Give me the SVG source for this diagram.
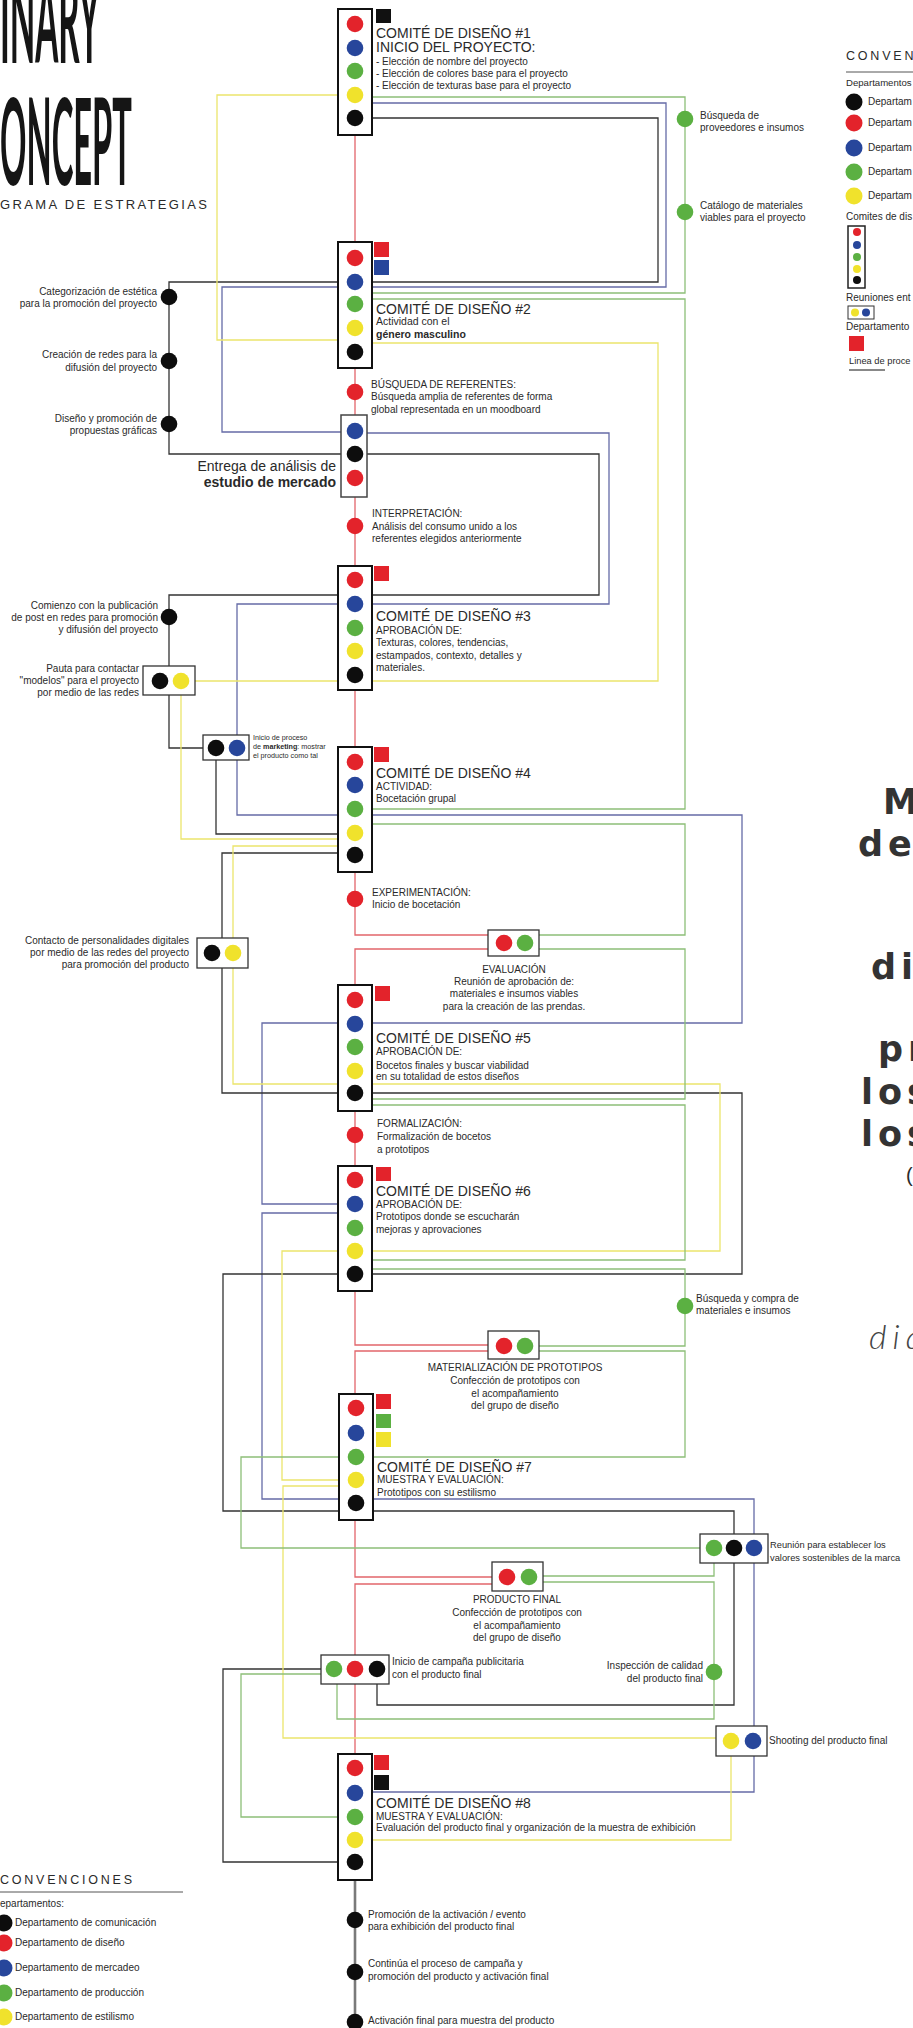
<svg xmlns="http://www.w3.org/2000/svg" width="913" height="2028" viewBox="0 0 913 2028">
<style>
.t{font-family:"Liberation Sans",Arial,sans-serif;fill:#2a2a2a}
.h{font-size:14px}
.s{font-size:10px}
.m{font-size:10px}
.e{text-anchor:end}
.c{text-anchor:middle}
.b{font-weight:bold}
.ln{fill:none;stroke-width:1.3}
.lr{stroke:#e2656b}.lb{stroke:#656ba7}.lg{stroke:#8dbf78}.ly{stroke:#ece56c}.lk{stroke:#333}
.box{fill:#fff;stroke:#111;stroke-width:2}
.mb{fill:#fff;stroke:#333;stroke-width:1.3}
.cr{fill:#e3232b}.cb{fill:#27469b}.cg{fill:#5bb042}.cy{fill:#f0e22c}.ck{fill:#0d0d0d}
.title{font-family:"Lato","Liberation Sans",sans-serif;font-weight:700;fill:#151515}
.big{font-family:"DejaVu Sans",sans-serif;font-weight:bold;font-size:35px;fill:#333;letter-spacing:5px}
</style>

<!-- title -->
<g id="title">
<text class="title" x="0" y="63" font-size="120" textLength="100" lengthAdjust="spacingAndGlyphs">INARY</text>
<text class="title" x="0" y="185" font-size="120" textLength="132" lengthAdjust="spacingAndGlyphs">ONCEPT</text>
<text class="t" x="0" y="209" font-size="13" textLength="207" lengthAdjust="spacing" fill="#333">GRAMA DE ESTRATEGIAS</text>
</g>

<!-- connectors -->
<g id="connectors">
<path class="ln lr" d="M355,135V242M355,368V415M355,497V566M355,690V747M355,872V935H488M488,949H355V985M355,1111V1166M355,1291V1345H488M488,1351H355V1394M355,1520V1577H492M492,1584H355V1655M355,1684V1754"/>
<path class="ln lb" d="M372,103H666V287H222V432H341M367,433H609V604H237V815H742V1023H262V1204H338M338,1213H262V1499H754V1792H372"/>
<path class="ln lk" d="M372,118H658V282H169V454H599V595H169V748H203M216,760V834H338M338,853H222V938M222,968V1093H742V1274H223V1511H734V1534M734,1563V1705H377V1684M321,1669H223V1862H338"/>
<path class="ln ly" d="M338,95H217V340H338M372,343H658V681H195M181,695V839H338M338,846H233V938M233,968V1084H720V1251H282V1480H339M339,1486H283V1738H716M731,1756V1840H372"/>
<path class="ln lg" d="M372,97H685V293H372M372,299H685V809H372M372,824H685V935H539M539,949H685V1099H372M372,1105H685V1260H372M372,1269H685V1346H539M539,1351H685V1457H241V1548H700M714,1563V1576H543M543,1582H714V1719H337V1684M321,1674H241V1817H338"/>
<path fill="none" stroke="#7a7a7a" stroke-width="2.6" d="M355,1880V2028"/>
</g>

<!-- comite 1 -->
<g id="comite1">
<rect class="box" x="338" y="9" width="34" height="126"/>
<circle class="cr" cx="355" cy="24" r="8.3"/><circle class="cb" cx="355" cy="48" r="8.3"/><circle class="cg" cx="355" cy="71" r="8.3"/><circle class="cy" cx="355" cy="95" r="8.3"/><circle class="ck" cx="355" cy="118" r="8.3"/>
<rect x="376" y="9" width="15" height="14" fill="#111"/>
<text class="t h" x="376" y="38">COMITÉ DE DISEÑO #1</text>
<text class="t h" x="376" y="52">INICIO DEL PROYECTO:</text>
<text class="t s" x="376" y="65">- Elección de nombre del proyecto</text>
<text class="t s" x="376" y="77">- Elección de colores base para el proyecto</text>
<text class="t s" x="376" y="89">- Elección de texturas base para el proyecto</text>
</g>

<g id="n-proveedores">
<circle class="cg" cx="685" cy="119" r="8.3"/>
<text class="t m" x="700" y="119">Búsqueda de</text>
<text class="t m" x="700" y="131">proveedores e insumos</text>
</g>
<g id="n-catalogo">
<circle class="cg" cx="685" cy="212" r="8.3"/>
<text class="t m" x="700" y="209">Catálogo de materiales</text>
<text class="t m" x="700" y="221">viables para el proyecto</text>
</g>

<!-- comite 2 -->
<g id="comite2">
<rect class="box" x="338" y="242" width="34" height="126"/>
<circle class="cr" cx="355" cy="258" r="8.3"/><circle class="cb" cx="355" cy="282" r="8.3"/><circle class="cg" cx="355" cy="304" r="8.3"/><circle class="cy" cx="355" cy="328" r="8.3"/><circle class="ck" cx="355" cy="352" r="8.3"/>
<rect class="cr" x="374" y="242" width="15" height="15"/>
<rect class="cb" x="374" y="260" width="15" height="15"/>
<text class="t h" x="376" y="314">COMITÉ DE DISEÑO #2</text>
<text class="t" x="376" y="325" font-size="10.5">Actividad con el</text>
<text class="t b" x="376" y="338" font-size="10.5">género masculino</text>
</g>

<g id="n-categorizacion">
<circle class="ck" cx="169" cy="297" r="8.3"/>
<text class="t s e" x="157" y="295">Categorización de estética</text>
<text class="t s e" x="157" y="307">para la promoción del proyecto</text>
</g>
<g id="n-redes">
<circle class="ck" cx="169" cy="361" r="8.3"/>
<text class="t s e" x="157" y="358">Creación de redes para la</text>
<text class="t s e" x="157" y="371">difusión del proyecto</text>
</g>
<g id="n-diseno-promo">
<circle class="ck" cx="169" cy="424" r="8.3"/>
<text class="t s e" x="157" y="422">Diseño y promoción de</text>
<text class="t s e" x="157" y="434">propuestas gráficas</text>
</g>

<g id="n-referentes">
<circle class="cr" cx="355" cy="392" r="8.3"/>
<text class="t s" x="371" y="388">BÚSQUEDA DE REFERENTES:</text>
<text class="t s" x="371" y="400">Búsqueda amplia de referentes de forma</text>
<text class="t s" x="371" y="413">global representada en un moodboard</text>
</g>

<g id="entrega">
<rect x="341" y="415" width="26" height="82" fill="#fff" stroke="#444" stroke-width="1.5"/>
<circle class="cb" cx="355" cy="431" r="8.3"/><circle class="ck" cx="355" cy="454" r="8.3"/><circle class="cr" cx="355" cy="478" r="8.3"/>
<text class="t e" x="336" y="471" font-size="14">Entrega de análisis de</text>
<text class="t e b" x="336" y="487" font-size="14">estudio de mercado</text>
</g>

<g id="n-interpretacion">
<circle class="cr" cx="355" cy="526" r="8.3"/>
<text class="t s" x="372" y="517">INTERPRETACIÓN:</text>
<text class="t s" x="372" y="530">Análisis del consumo unido a los</text>
<text class="t s" x="372" y="542">referentes elegidos anteriormente</text>
</g>

<!-- comite 3 -->
<g id="comite3">
<rect class="box" x="338" y="566" width="34" height="124"/>
<circle class="cr" cx="355" cy="580" r="8.3"/><circle class="cb" cx="355" cy="604" r="8.3"/><circle class="cg" cx="355" cy="628" r="8.3"/><circle class="cy" cx="355" cy="651" r="8.3"/><circle class="ck" cx="355" cy="675" r="8.3"/>
<rect class="cr" x="374" y="566" width="15" height="15"/>
<text class="t h" x="376" y="621">COMITÉ DE DISEÑO #3</text>
<text class="t s" x="376" y="634">APROBACIÓN DE:</text>
<text class="t s" x="376" y="646">Texturas, colores, tendencias,</text>
<text class="t s" x="376" y="659">estampados, contexto, detalles y</text>
<text class="t s" x="376" y="671">materiales.</text>
</g>

<g id="n-comienzo">
<circle class="ck" cx="169" cy="617" r="8.3"/>
<text class="t s e" x="158" y="609">Comienzo con la publicación</text>
<text class="t s e" x="158" y="621">de post en redes para promoción</text>
<text class="t s e" x="158" y="633">y difusión del proyecto</text>
</g>

<g id="pauta">
<rect class="mb" x="143" y="666" width="52" height="29"/>
<circle class="ck" cx="160" cy="681" r="8.3"/><circle class="cy" cx="181" cy="681" r="8.3"/>
<text class="t s e" x="139" y="672">Pauta para contactar</text>
<text class="t s e" x="139" y="684">"modelos" para el proyecto</text>
<text class="t s e" x="139" y="696">por medio de las redes</text>
</g>

<g id="inicio-marketing">
<rect class="mb" x="203" y="735" width="46" height="25"/>
<circle class="ck" cx="216" cy="748" r="8.3"/><circle class="cb" cx="237" cy="748" r="8.3"/>
<text class="t" x="253" y="740" font-size="7.2">Inicio de proceso</text>
<text class="t" x="253" y="749" font-size="7.2">de <tspan font-weight="bold">marketing</tspan>: mostrar</text>
<text class="t" x="253" y="758" font-size="7.2">el producto como tal</text>
</g>

<!-- comite 4 -->
<g id="comite4">
<rect class="box" x="338" y="747" width="34" height="125"/>
<circle class="cr" cx="355" cy="762" r="8.3"/><circle class="cb" cx="355" cy="785" r="8.3"/><circle class="cg" cx="355" cy="809" r="8.3"/><circle class="cy" cx="355" cy="833" r="8.3"/><circle class="ck" cx="355" cy="855" r="8.3"/>
<rect class="cr" x="374" y="747" width="15" height="15"/>
<text class="t h" x="376" y="778">COMITÉ DE DISEÑO #4</text>
<text class="t s" x="376" y="790">ACTIVIDAD:</text>
<text class="t s" x="376" y="802">Bocetación grupal</text>
</g>

<g id="n-experimentacion">
<circle class="cr" cx="355" cy="899" r="8.3"/>
<text class="t s" x="372" y="896">EXPERIMENTACIÓN:</text>
<text class="t s" x="372" y="908">Inicio de bocetación</text>
</g>

<g id="contacto">
<rect class="mb" x="197" y="938" width="51" height="30"/>
<circle class="ck" cx="212" cy="953" r="8.3"/><circle class="cy" cx="233" cy="953" r="8.3"/>
<text class="t s e" x="189" y="944">Contacto de personalidades digitales</text>
<text class="t s e" x="189" y="956">por medio de las redes del proyecto</text>
<text class="t s e" x="189" y="968">para promoción del producto</text>
</g>

<g id="evaluacion">
<rect class="mb" x="488" y="930" width="51" height="26"/>
<circle class="cr" cx="504" cy="943" r="8.3"/><circle class="cg" cx="525" cy="943" r="8.3"/>
<text class="t s c" x="514" y="973">EVALUACIÓN</text>
<text class="t s c" x="514" y="985">Reunión de aprobación de:</text>
<text class="t s c" x="514" y="997">materiales e insumos viables</text>
<text class="t s c" x="514" y="1010">para la creación de las prendas.</text>
</g>

<!-- comite 5 -->
<g id="comite5">
<rect class="box" x="338" y="985" width="34" height="126"/>
<circle class="cr" cx="355" cy="1000" r="8.3"/><circle class="cb" cx="355" cy="1024" r="8.3"/><circle class="cg" cx="355" cy="1047" r="8.3"/><circle class="cy" cx="355" cy="1071" r="8.3"/><circle class="ck" cx="355" cy="1093" r="8.3"/>
<rect class="cr" x="375" y="986" width="15" height="15"/>
<text class="t h" x="376" y="1043">COMITÉ DE DISEÑO #5</text>
<text class="t s" x="376" y="1055">APROBACIÓN DE:</text>
<text class="t s" x="376" y="1069">Bocetos finales y buscar viabilidad</text>
<text class="t s" x="376" y="1080">en su totalidad de estos diseños</text>
</g>

<g id="n-formalizacion">
<circle class="cr" cx="355" cy="1135" r="8.3"/>
<text class="t s" x="377" y="1127">FORMALIZACIÓN:</text>
<text class="t s" x="377" y="1140">Formalización de bocetos</text>
<text class="t s" x="377" y="1153">a prototipos</text>
</g>

<!-- comite 6 -->
<g id="comite6">
<rect class="box" x="338" y="1166" width="34" height="125"/>
<circle class="cr" cx="355" cy="1180" r="8.3"/><circle class="cb" cx="355" cy="1204" r="8.3"/><circle class="cg" cx="355" cy="1228" r="8.3"/><circle class="cy" cx="355" cy="1251" r="8.3"/><circle class="ck" cx="355" cy="1274" r="8.3"/>
<rect class="cr" x="376" y="1167" width="15" height="14"/>
<text class="t h" x="376" y="1196">COMITÉ DE DISEÑO #6</text>
<text class="t s" x="376" y="1208">APROBACIÓN DE:</text>
<text class="t s" x="376" y="1220">Prototipos donde se escucharán</text>
<text class="t s" x="376" y="1233">mejoras y aprovaciones</text>
</g>

<g id="n-compra">
<circle class="cg" cx="685" cy="1306" r="8.3"/>
<text class="t s" x="696" y="1302">Búsqueda y compra de</text>
<text class="t s" x="696" y="1314">materiales e insumos</text>
</g>

<g id="materializacion">
<rect class="mb" x="488" y="1331" width="51" height="28"/>
<circle class="cr" cx="504" cy="1346" r="8.3"/><circle class="cg" cx="525" cy="1346" r="8.3"/>
<text class="t s c" x="515" y="1371">MATERIALIZACIÓN DE PROTOTIPOS</text>
<text class="t s c" x="515" y="1384">Confección de prototipos con</text>
<text class="t s c" x="515" y="1397">el acompañamiento</text>
<text class="t s c" x="515" y="1409">del grupo de diseño</text>
</g>

<!-- comite 7 -->
<g id="comite7">
<rect class="box" x="339" y="1394" width="34" height="126"/>
<circle class="cr" cx="356" cy="1408" r="8.3"/><circle class="cb" cx="356" cy="1433" r="8.3"/><circle class="cg" cx="356" cy="1457" r="8.3"/><circle class="cy" cx="356" cy="1480" r="8.3"/><circle class="ck" cx="356" cy="1503" r="8.3"/>
<rect class="cr" x="376" y="1394" width="15" height="15"/>
<rect class="cg" x="376" y="1414" width="15" height="14"/>
<rect class="cy" x="376" y="1432" width="15" height="15"/>
<text class="t h" x="377" y="1472">COMITÉ DE DISEÑO #7</text>
<text class="t s" x="377" y="1483">MUESTRA Y EVALUACIÓN:</text>
<text class="t s" x="377" y="1496">Prototipos con su estilismo</text>
</g>

<g id="reunion-marca">
<rect class="mb" x="700" y="1534" width="68" height="29"/>
<circle class="cg" cx="714" cy="1548" r="8.3"/><circle class="ck" cx="734" cy="1548" r="8.3"/><circle class="cb" cx="754" cy="1548" r="8.3"/>
<text class="t" x="770" y="1548" font-size="9.3">Reunión para establecer los</text>
<text class="t" x="770" y="1561" font-size="9.3">valores sostenibles de la marca</text>
</g>

<g id="producto-final">
<rect class="mb" x="492" y="1562" width="51" height="29"/>
<circle class="cr" cx="507" cy="1577" r="8.3"/><circle class="cg" cx="529" cy="1577" r="8.3"/>
<text class="t s c" x="517" y="1603">PRODUCTO FINAL</text>
<text class="t s c" x="517" y="1616">Confección de prototipos con</text>
<text class="t s c" x="517" y="1629">el acompañamiento</text>
<text class="t s c" x="517" y="1641">del grupo de diseño</text>
</g>

<g id="campana">
<rect class="mb" x="321" y="1655" width="68" height="29"/>
<circle class="cg" cx="334" cy="1669" r="8.3"/><circle class="cr" cx="355" cy="1669" r="8.3"/><circle class="ck" cx="377" cy="1669" r="8.3"/>
<text class="t s" x="392" y="1665">Inicio de campaña publicitaria</text>
<text class="t s" x="392" y="1678">con el producto final</text>
</g>

<g id="n-inspeccion">
<circle class="cg" cx="714" cy="1672" r="8.3"/>
<text class="t s e" x="703" y="1669">Inspección de calidad</text>
<text class="t s e" x="703" y="1682">del producto final</text>
</g>

<g id="shooting">
<rect class="mb" x="716" y="1726" width="51" height="30"/>
<circle class="cy" cx="731" cy="1741" r="8.3"/><circle class="cb" cx="753" cy="1741" r="8.3"/>
<text class="t s" x="769" y="1744">Shooting del producto final</text>
</g>

<!-- comite 8 -->
<g id="comite8">
<rect class="box" x="338" y="1754" width="34" height="126"/>
<circle class="cr" cx="355" cy="1768" r="8.3"/><circle class="cb" cx="355" cy="1793" r="8.3"/><circle class="cg" cx="355" cy="1817" r="8.3"/><circle class="cy" cx="355" cy="1840" r="8.3"/><circle class="ck" cx="355" cy="1862" r="8.3"/>
<rect class="cr" x="374" y="1755" width="15" height="15"/>
<rect x="374" y="1775" width="15" height="15" fill="#111"/>
<text class="t h" x="376" y="1808">COMITÉ DE DISEÑO #8</text>
<text class="t s" x="376" y="1820">MUESTRA Y EVALUACIÓN:</text>
<text class="t s" x="376" y="1831">Evaluación del producto final y organización de la muestra de exhibición</text>
</g>

<g id="n-promocion">
<circle class="ck" cx="355" cy="1920" r="8.3"/>
<text class="t s" x="368" y="1918">Promoción de la activación / evento</text>
<text class="t s" x="368" y="1930">para exhibición del producto final</text>
</g>
<g id="n-continua">
<circle class="ck" cx="355" cy="1972" r="8.3"/>
<text class="t s" x="368" y="1967">Continúa el proceso de campaña y</text>
<text class="t s" x="368" y="1980">promoción del producto y activación final</text>
</g>
<g id="n-activacion">
<circle class="ck" cx="355" cy="2022" r="8.3"/>
<text class="t s" x="368" y="2024">Activación final para muestra del producto</text>
</g>

<!-- legend top right -->
<g id="legend-right">
<text class="t" x="846" y="60" font-size="12.5" letter-spacing="2.8" fill="#333">CONVEN</text>
<line x1="846" y1="72" x2="913" y2="72" stroke="#555" stroke-width="1"/>
<text class="t" x="846" y="86" font-size="9.6">Departamentos</text>
<circle class="ck" cx="854" cy="102" r="8.5"/><circle class="cr" cx="854" cy="123" r="8.5"/><circle class="cb" cx="854" cy="148" r="8.5"/><circle class="cg" cx="854" cy="172" r="8.5"/><circle class="cy" cx="854" cy="196" r="8.5"/>
<text class="t m" x="868" y="105">Departam</text>
<text class="t m" x="868" y="126">Departam</text>
<text class="t m" x="868" y="151">Departam</text>
<text class="t m" x="868" y="175">Departam</text>
<text class="t m" x="868" y="199">Departam</text>
<text class="t m" x="846" y="220">Comites de dis</text>
<rect x="848" y="226" width="17" height="62" fill="#fff" stroke="#222" stroke-width="1.5"/>
<circle class="cr" cx="857" cy="232" r="4"/><circle class="cb" cx="857" cy="245" r="4"/><circle class="cg" cx="857" cy="257" r="4"/><circle class="cy" cx="857" cy="269" r="4"/><circle class="ck" cx="857" cy="280" r="4"/>
<text class="t m" x="846" y="301">Reuniones ent</text>
<rect x="848" y="306" width="26" height="13" fill="#fff" stroke="#333" stroke-width="1"/>
<circle class="cy" cx="855" cy="312.5" r="4"/><circle class="cb" cx="866" cy="312.5" r="4"/>
<text class="t m" x="846" y="330">Departamento</text>
<rect class="cr" x="849" y="336" width="15" height="15"/>
<text class="t" x="849" y="364" font-size="9.3">Linea de proce</text>
<line x1="849" y1="370" x2="885" y2="370" stroke="#888" stroke-width="2"/>
</g>

<!-- big text right -->
<g id="big-text">
<text class="big" x="883" y="814">M</text>
<text class="big" x="858" y="856">de</text>
<text class="big" x="871" y="979">di</text>
<text class="big" x="878" y="1061">pr</text>
<text class="big" x="861" y="1104">los</text>
<text class="big" x="861" y="1146">los</text>
<text class="t" x="906" y="1182" font-size="20" fill="#555">(</text>
<text x="869" y="1349" font-family="Lato,'Liberation Sans',sans-serif" font-style="italic" font-weight="300" font-size="34" letter-spacing="6" fill="#444">dia</text>
</g>

<!-- legend bottom left -->
<g id="legend-left">
<text class="t" x="0" y="1884" font-size="12.5" textLength="132" lengthAdjust="spacing" fill="#333">CONVENCIONES</text>
<line x1="0" y1="1892" x2="183" y2="1892" stroke="#555" stroke-width="1"/>
<text class="t m" x="0" y="1907">epartamentos:</text>
<circle class="ck" cx="4" cy="1923" r="8.5"/><circle class="cr" cx="4" cy="1943" r="8.5"/><circle class="cb" cx="4" cy="1968" r="8.5"/><circle class="cg" cx="4" cy="1993" r="8.5"/><circle class="cy" cx="4" cy="2017" r="8.5"/>
<text class="t m" x="15" y="1926">Departamento de comunicación</text>
<text class="t m" x="15" y="1946">Departamento de diseño</text>
<text class="t m" x="15" y="1971">Departamento de mercadeo</text>
<text class="t m" x="15" y="1996">Departamento de producción</text>
<text class="t m" x="15" y="2020">Departamento de estilismo</text>
</g>
</svg>
